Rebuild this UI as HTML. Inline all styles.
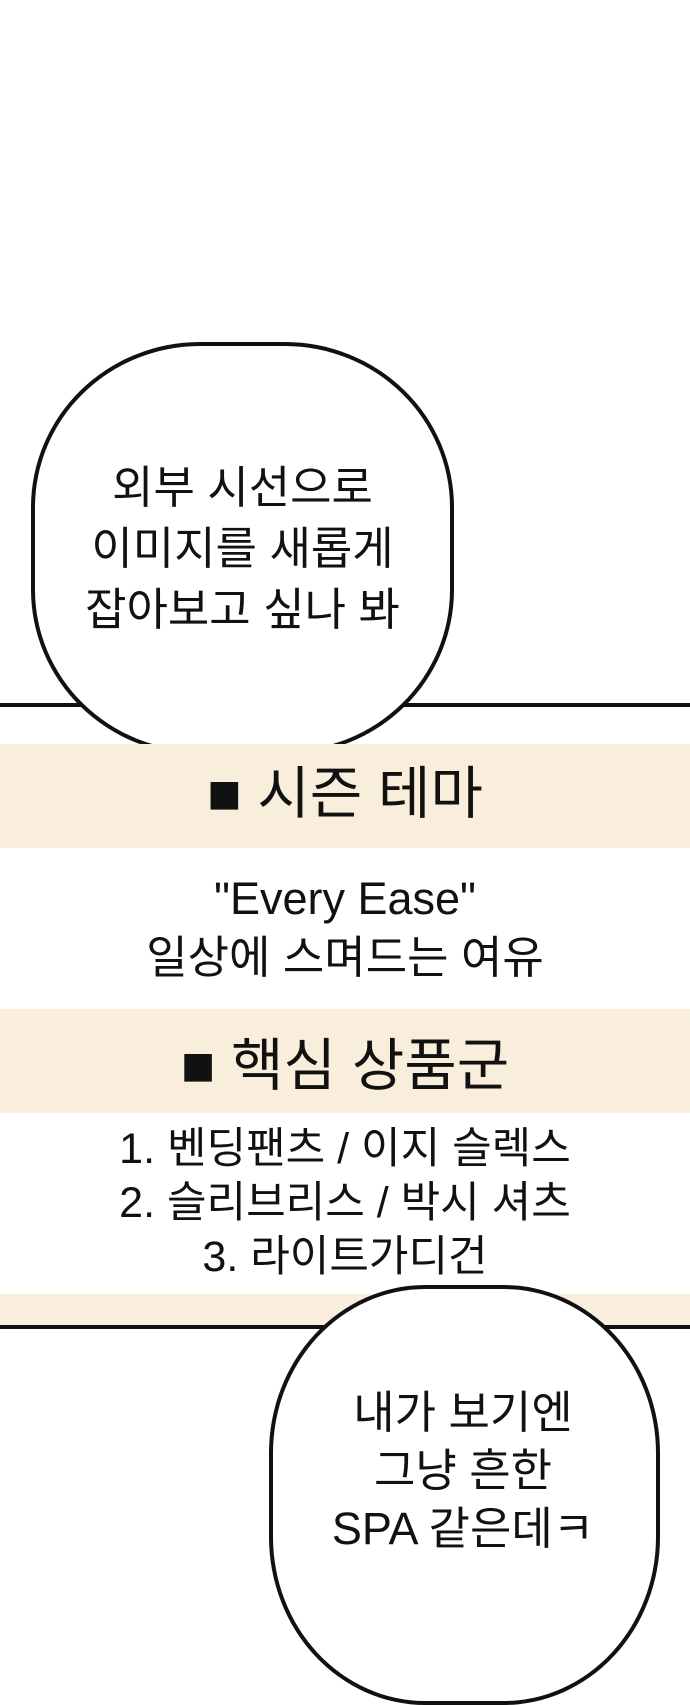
<!DOCTYPE html>
<html><head><meta charset="utf-8"><style>
body{margin:0;width:690px;height:1600px;position:relative;overflow:hidden;background:#fff;font-family:"Liberation Sans","Noto Sans CJK KR",sans-serif;color:#111}
.band{position:absolute;left:0;width:690px;background:#f8eedb}
.line{position:absolute;left:0;width:690px;height:4px;background:#111}
.t{position:absolute;left:0;width:690px;text-align:center;white-space:nowrap}
.bub{position:absolute;background:#fff;border:4px solid #111;box-sizing:border-box;border-radius:40%/40%}
.bt{position:absolute;text-align:center;white-space:nowrap;font-size:45px;line-height:61px}
</style></head><body>
<div class="line" style="top:703px"></div>
<div class="bub" style="left:31px;top:342px;width:423px;height:413px"></div>
<div class="bt" style="left:31px;width:423px;top:457px">외부 시선으로<br>이미지를 새롭게<br>잡아보고 싶나 봐</div>

<div class="band" style="top:744px;height:104px"></div>
<div class="t" style="top:762px;font-size:57px;line-height:64px">■ 시즌 테마</div>
<div class="t" style="top:869px;font-size:45px;line-height:59px">"Every Ease"<br>일상에 스며드는 여유</div>
<div class="band" style="top:1009px;height:104px"></div>
<div class="t" style="top:1034px;font-size:57px;line-height:64px">■ 핵심 상품군</div>
<div class="t" style="top:1122px;font-size:43px;line-height:54px">1. 벤딩팬츠 / 이지 슬렉스<br>2. 슬리브리스 / 박시 셔츠<br>3. 라이트가디건</div>
<div class="band" style="top:1294px;height:32px"></div>
<div class="line" style="top:1325px"></div>
<div class="bub" style="left:269px;top:1285px;width:391px;height:420px"></div>
<div class="bt" style="left:269px;width:388px;top:1384px;font-size:45px;line-height:58px">내가 보기엔<br>그냥 흔한<br>SPA 같은데ㅋ</div>
</body></html>
